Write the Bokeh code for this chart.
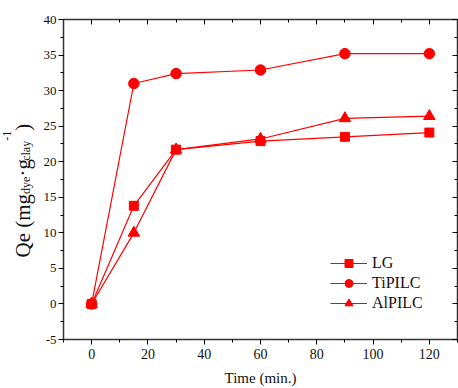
import numpy as np
from bokeh.plotting import figure
from bokeh.layouts import row
from bokeh.models import (LinearAxis, SingleIntervalTicker, Legend, LegendItem,
                          Label, NumeralTickFormatter)
from bokeh.embed import file_html
from bokeh.resources import INLINE

# ---------------- data ----------------
time_min = [0, 15, 30, 60, 90, 120]
lg = [0.0, 13.8, 21.7, 22.9, 23.5, 24.1]
tipilc = [0.0, 31.0, 32.4, 32.9, 35.2, 35.2]
alpilc = [0.0, 10.0, 21.7, 23.2, 26.1, 26.4]
series_names = ["LG", "TiPILC", "AlPILC"]
x_title = "Time (min.)"
y_title_parts = ["Qe (mg", "dye", "\u00b7g", "clay", "-1", ")"]

# ---------------- layout ----------------
H = 388
LW = 40                      # strip holding the rotated y title
W = 458 - LW
BL, BR, BT, BB = 20, 1, 19, 49
X0, X1 = -10, 130
Y0, Y1 = -5, 40
FONT = "Liberation Serif"
RED = "#ff0000"
INK = "#111111"

p = figure(width=W, height=H, x_range=(X0, X1), y_range=(Y0, Y1),
           output_backend="svg", toolbar_location=None,
           min_border_left=BL, min_border_right=BR, min_border_top=BT,
           min_border_bottom=BB)
p.grid.visible = False
p.outline_line_color = None

def style_axis(ax, inward, labels):
    ax.axis_line_color = "#333333"
    ax.axis_line_width = 1.5
    ax.major_tick_line_color = "black"
    ax.minor_tick_line_color = "black"
    if inward:
        ax.major_tick_in, ax.major_tick_out = 5, 0
        ax.minor_tick_in, ax.minor_tick_out = 3, 0
    else:
        ax.major_tick_in, ax.major_tick_out = 0, 5
        ax.minor_tick_in, ax.minor_tick_out = 0, 3
    ax.major_label_text_font = FONT
    ax.formatter = NumeralTickFormatter(format="0")
    if labels:
        ax.major_label_text_color = INK
    else:
        ax.major_label_text_font_size = "1px"
        ax.major_label_text_alpha = 0
        ax.major_label_standoff = 0

xa = p.xaxis[0]
ya = p.yaxis[0]
xa.ticker = SingleIntervalTicker(interval=20, num_minor_ticks=2)
ya.ticker = SingleIntervalTicker(interval=5, num_minor_ticks=2)
style_axis(xa, False, True)
style_axis(ya, False, True)
xa.major_label_text_font_size = "14px"
ya.major_label_text_font_size = "13px"
xa.major_label_standoff = 4
ya.major_label_standoff = 2
xa.axis_label = x_title
xa.axis_label_text_font = FONT
xa.axis_label_text_font_style = "normal"
xa.axis_label_text_font_size = "15px"
xa.axis_label_text_color = INK
xa.axis_label_standoff = 8

top = LinearAxis(ticker=SingleIntervalTicker(interval=20, num_minor_ticks=2))
right = LinearAxis(ticker=SingleIntervalTicker(interval=5, num_minor_ticks=2))
style_axis(top, True, False)
style_axis(right, True, False)
p.add_layout(top, "above")
p.add_layout(right, "right")

# ---------------- series ----------------
items = []
markers = ["square", "circle", "triangle"]
sizes = [9, 10.5, 11.5]
for name, ys, mk, sz in zip(series_names, [lg, tipilc, alpilc], markers, sizes):
    ln = p.line(time_min, ys, line_color=RED, line_width=1.2)
    sc = p.scatter(time_min, ys, marker=mk, size=sz, fill_color=RED,
                   line_color=RED)
    items.append(LegendItem(label=name, renderers=[ln, sc]))

leg = Legend(items=items, location=(267, 26))
leg.border_line_color = None
leg.background_fill_alpha = 0
leg.padding = 0
leg.margin = 0
leg.spacing = 0
leg.glyph_width = 37
leg.glyph_height = 20
leg.label_height = 20
leg.label_standoff = 5
leg.label_text_font = FONT
leg.label_text_font_size = "16px"
leg.label_text_color = INK
p.add_layout(leg, "center")

# ---------------- rotated y-axis title (own strip, labels stay in frame) ----
t = figure(width=LW, height=H, output_backend="svg", toolbar_location=None,
           x_axis_location=None, y_axis_location=None,
           min_border_left=0, min_border_right=0, min_border_top=0,
           min_border_bottom=0, x_range=(0, 1), y_range=(0, 1))
t.grid.visible = False
t.outline_line_color = None

MAIN, SUB = 21, 12
# the strip's frame is aligned with the main frame by the row layout
FRAME_BOTTOM = H - BB
# font px, baseline x (px, frame relative), advance (em) for each part
styles = [(MAIN, 22.5, 3.027), (SUB, 25.5, 1.444), (MAIN, 22.5, 0.75),
          (SUB, 25.5, 1.666), (SUB, 6.5, 0.833), (MAIN, 22.5, 0.333)]
pos = 257.0
for txt, (fs, bx, adv) in zip(y_title_parts, styles):
    t.add_layout(Label(x=bx, y=FRAME_BOTTOM - pos,
                       x_units="screen", y_units="screen",
                       text=txt, angle=np.pi / 2,
                       text_font=FONT, text_font_size=f"{fs}px",
                       text_color=INK, text_align="left",
                       text_baseline="alphabetic"))
    pos -= adv * fs

layout = row(t, p, spacing=0)
open("out.html", "w").write(file_html(layout, INLINE))
